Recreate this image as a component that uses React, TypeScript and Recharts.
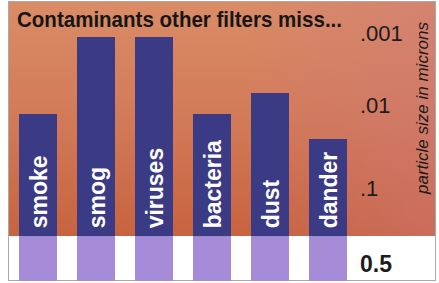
import React from "react";
import { BarChart, Bar, XAxis, YAxis, LabelList, Customized } from "recharts";

// Contaminant categories (left to right)
const categories = ["smoke", "smog", "viruses", "bacteria", "dust", "dander"];
// Bar top position on the chart's illustrative log-size scale (0 = bottom, 100 = top)
const barTopLevels = [59.9, 87.5, 87.5, 59.9, 67.4, 50.9];
// Level of the 0.5 micron band shown in the white strip
const filterBandLevel = 16;
// Right-axis ticks: positions on the same scale and their labels (microns)
const tickLevels = [88.9, 63.1, 33.3, 6.1];
const tickLabels = [".001", ".01", ".1", "0.5"];

const title = "Contaminants other filters miss...";
const axisTitle = "particle size in microns";

const data = categories.map((name, i) => ({
  name,
  base: filterBandLevel,
  top: barTopLevels[i] - filterBandLevel,
}));

const FONT = "'Liberation Sans', Arial, Helvetica, sans-serif";

const BarName = (props: any) => {
  const { x, y, width, height, value } = props;
  const x0 = x + width / 2 + 9;
  const y0 = y + height - 8;
  return (
    <text
      x={x0}
      y={y0}
      transform={`rotate(-90, ${x0}, ${y0})`}
      textAnchor="start"
      fill="#ffffff"
      fontFamily={FONT}
      fontWeight="bold"
      fontSize={23}
    >
      {value}
    </text>
  );
};

const Tick = (props: any) => {
  const { x, y, payload, index } = props;
  const isLast = index === tickLabels.length - 1;
  return (
    <text
      x={x}
      y={y}
      dy="0.355em"
      textAnchor="start"
      fill="#1c1c1c"
      fontFamily={FONT}
      fontSize={isLast ? 23 : 22}
      fontWeight={isLast ? "bold" : "normal"}
    >
      {tickLabels[tickLevels.indexOf(payload.value)]}
    </text>
  );
};

const AxisTitle = (props: any) => {
  const vb = props.viewBox || {};
  const x0 = (vb.x ?? 357) + (vb.width ?? 60) + 11;
  const y0 = 108;
  return (
    <text
      x={x0}
      y={y0}
      transform={`rotate(-90, ${x0}, ${y0})`}
      textAnchor="middle"
      fill="#1c1c1c"
      fontFamily={FONT}
      fontStyle="italic"
      fontSize={17}
    >
      {axisTitle}
    </text>
  );
};

const Title = () => (
  <text
    x={17}
    y={27}
    fill="#161616"
    fontFamily="'Liberation Sans Narrow', 'Liberation Sans', Arial, sans-serif"
    fontWeight="bold"
    fontSize={22}
    textLength={325}
    lengthAdjust="spacingAndGlyphs"
  >
    {title}
  </text>
);

export default function App() {
  return (
    <div
      style={{
        position: "absolute",
        left: 0,
        top: 0,
        width: 439,
        height: 283,
        background: "#ffffff",
        overflow: "hidden",
      }}
    >
      {/* frame */}
      <div
        style={{
          position: "absolute",
          left: 8,
          top: 1,
          width: 428,
          height: 280,
          border: "1px solid #a9a9a9",
          boxSizing: "border-box",
          background: "#ffffff",
        }}
      />
      {/* orange field */}
      <div
        style={{
          position: "absolute",
          left: 9,
          top: 2,
          width: 426,
          height: 234,
          background:
            "linear-gradient(to right, rgba(205,120,125,0) 55%, rgba(205,120,125,0.45) 100%), linear-gradient(to bottom, #da8c66 0%, #d27a58 50%, #c8633f 100%)",
        }}
      />
      <div style={{ position: "absolute", left: 0, top: 0 }}>
        <BarChart
          width={439}
          height={283}
          data={data}
          margin={{ top: 2, right: 22, bottom: 2, left: 9 }}
          barCategoryGap={0}
        >
          <XAxis dataKey="name" hide />
          <YAxis
            orientation="right"
            type="number"
            domain={[0, 100]}
            ticks={tickLevels}
            interval={0}
            width={60}
            axisLine={false}
            tickLine={false}
            tickSize={0}
            tickMargin={3}
            tick={<Tick />}
            label={<AxisTitle />}
          />
          <Bar
            dataKey="base"
            stackId="a"
            fill="#a68bd9"
            barSize={38}
            isAnimationActive={false}
          />
          <Bar
            dataKey="top"
            stackId="a"
            fill="#3b3a85"
            barSize={38}
            isAnimationActive={false}
          >
            <LabelList dataKey="name" content={<BarName />} />
          </Bar>
          <Customized component={<Title />} />
        </BarChart>
      </div>
    </div>
  );
}
